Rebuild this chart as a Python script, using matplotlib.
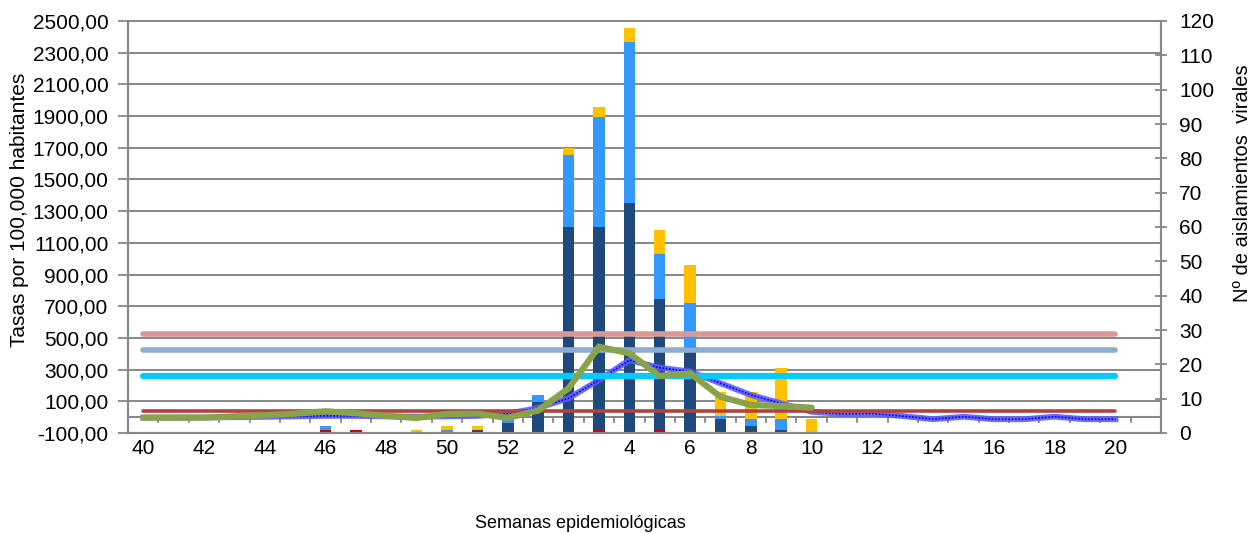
import numpy as np
import matplotlib
matplotlib.use('Agg')
import matplotlib.pyplot as plt
from matplotlib.transforms import blended_transform_factory as blend

plt.rcParams['font.family'] = ['Liberation Sans', 'DejaVu Sans']

nan = np.nan

# semanas epidemiológicas 40..52, 1..21
weeks = list(range(40, 53)) + list(range(1, 22))

# nº de aislamientos virales (eje derecho), apilados
ais_red = [0, 0, 0, 0, 0, 0, 1, 1, 0, 0, 0, 0, 0, 0, 0, 1, 0, 1, 0, 0, 0, 0, 0,
           0, 0, 0, 0, 0, 0, 0, 0, 0, 0, 0]
ais_dark = [0, 0, 0, 0, 0, 0, 0, 0, 0, 0, 0, 1, 3, 9, 60, 59, 67, 38, 25, 4, 2, 1, 0,
            0, 0, 0, 0, 0, 0, 0, 0, 0, 0, 0]
ais_light = [0, 0, 0, 0, 0, 0, 1, 0, 0, 0, 1, 0, 1, 2, 21, 32, 47, 13, 13, 1, 2, 3, 0,
             0, 0, 0, 0, 0, 0, 0, 0, 0, 0, 0]
ais_yellow = [0, 0, 0, 0, 0, 0, 0, 0, 0, 1, 1, 1, 0, 0, 2, 3, 4, 7, 11, 7, 8, 15, 4,
              0, 0, 0, 0, 0, 0, 0, 0, 0, 0, 0]

# tasas por 100.000 habitantes (eje izquierdo)
tasa_actual = [-3, -3, -3, 5, 12, 22, 37, 25, 8, -5, 20, 22, -5, 42, 182, 444, 403,
               260, 277, 129, 77, 70, 60,
               nan, nan, nan, nan, nan, nan, nan, nan, nan, nan, nan]
tasa_media = [-3, -3, -2, 0, 2, 5, 8, 8, 5, 3, 5, 8, 22, 58, 119, 234, 360, 312, 288,
              214, 140, 87, 34, 20, 22, 7, -13, 3, -13, -13, 3, -13, -13, nan]

# umbrales
umbral_muy_alto = 527
umbral_alto = 426
umbral_medio = 260
umbral_epidemico = 40

x = np.arange(len(weeks))

W, H = 1256, 534
fig = plt.figure(figsize=(W / 100, H / 100), dpi=100)
ax = fig.add_axes([128 / W, 1 - 433 / H, (1161 - 128) / W, 412 / H])
ax2 = ax.twinx()

gray = '#878787'

# barras (eje derecho)
bw = 0.38
b0 = np.zeros(len(x))
for vals, col in [(ais_red, '#cc0000'), (ais_dark, '#1f497d'),
                  (ais_light, '#3399ff'), (ais_yellow, '#ffc000')]:
    ax.bar(x, vals, bw, bottom=b0, color=col, zorder=2, linewidth=0)
    b0 = b0 + np.array(vals)

ax.set_ylim(0, 120)
ax.set_xlim(-0.5, len(x) - 0.5)
ax.set_yticks(range(0, 121, 10))
ax.yaxis.tick_right()
ax.yaxis.set_label_position('right')

# rejilla en unidades del eje izquierdo, por detrás de las barras
tr_grid = blend(ax.transAxes, ax2.transData)
for v in range(-100, 2501, 200):
    ax.plot([0, 1], [v, v], transform=tr_grid, color=gray, lw=1.4, zorder=0.5,
            clip_on=False)
# eje de categorías en y=0
ax.plot([0, 1], [0, 0], transform=tr_grid, color=gray, lw=1.5, zorder=0.6)
tr_tick = blend(ax.transData, ax2.transData)
for b in np.arange(0.5, len(x) - 1, 1.0):
    ax.plot([b, b], [0, -32], transform=tr_tick, color=gray, lw=1.3, zorder=0.6)

# líneas (eje izquierdo)
n_u = 33
ax2.plot(x, tasa_media, color='#5c5cff', lw=4.2, alpha=0.9, zorder=3)
ax2.plot(x, tasa_media, color='#0000ff', lw=1.2, ls=(0, (1, 1)), zorder=3)
for val, col, lw in [(umbral_muy_alto, '#d99795', 4.0), (umbral_alto, '#90aad2', 4.0),
                     (umbral_medio, '#00ccff', 4.5), (umbral_epidemico, '#b0423e', 2.6)]:
    ax2.plot(x[:n_u], [val] * n_u, color=col, lw=lw, solid_capstyle='round', zorder=4)
ax2.plot(x, tasa_actual, color='#88a34a', lw=4.5, solid_capstyle='round',
         solid_joinstyle='miter', zorder=5)

ax2.set_ylim(-100, 2500)
ax2.set_yticks(range(-100, 2501, 200))
ax2.set_yticklabels([f"{v:.2f}".replace('.', ',') for v in range(-100, 2501, 200)])
ax2.yaxis.tick_left()
ax2.yaxis.set_label_position('left')

for a in (ax, ax2):
    for s in a.spines.values():
        s.set_color(gray)
        s.set_linewidth(1.5)
    a.spines['top'].set_visible(False)

ax.set_xticks(x[::2])
ax.set_xticklabels([str(w) for w in weeks[::2]])
ax.tick_params(axis='x', length=0, pad=4, labelsize=15)
ax.tick_params(axis='y', direction='inout', length=8, width=1.3, color=gray,
               pad=9, labelsize=15)
ax2.tick_params(axis='y', direction='out', length=7, width=1.3, color=gray,
                pad=7, labelsize=15)

fig.text(20 / W, 1 - 210 / H, 'Tasas por 100,000 habitantes', rotation=90,
         ha='center', va='center', fontsize=15)
fig.text(1242 / W, 1 - 183 / H, 'Nº de aislamientos  virales', rotation=90,
         ha='center', va='center', fontsize=14.5)
fig.text(580 / W, 1 - 523 / H, 'Semanas epidemiológicas', ha='center',
         va='center', fontsize=13)

fig.savefig('out.png', dpi=100)
